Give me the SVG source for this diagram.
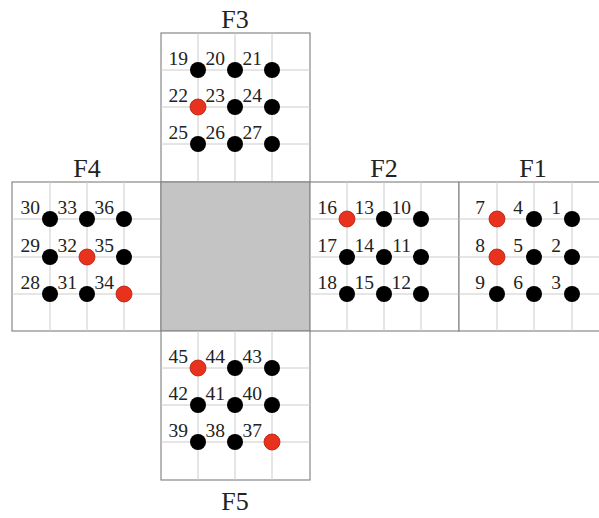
<svg xmlns="http://www.w3.org/2000/svg" width="599" height="518" viewBox="0 0 599 518">
<defs>
<style>
.face{fill:#ffffff;stroke:#888888;stroke-width:1.2}
.center{fill:#c4c4c4;stroke:#888888;stroke-width:1.2}
.grid{stroke:#cccccc;stroke-width:1;fill:none}
.d{fill:#000000}
.r{fill:#e8321e;stroke:#b02010;stroke-width:0.8}
.n{font-family:"Liberation Serif","Times New Roman",serif;font-size:19.5px;fill:#222;text-anchor:end}
.t{font-family:"Liberation Serif","Times New Roman",serif;font-size:26px;fill:#222;text-anchor:middle}
</style>
</defs>
<rect width="599" height="518" fill="#ffffff"/>

<g id="F3">
<rect class="face" x="161" y="33" width="149" height="149"/>
<path class="grid" d="M198,33V182M235,33V182M272,33V182M161,70H310M161,107H310M161,144H310"/>
<text class="t" x="235" y="28">F3</text>
<circle class="d" cx="198" cy="70" r="8"/><circle class="d" cx="235" cy="70" r="8"/><circle class="d" cx="272" cy="70" r="8"/>
<circle class="r" cx="198" cy="107" r="8"/><circle class="d" cx="235" cy="107" r="8"/><circle class="d" cx="272" cy="107" r="8"/>
<circle class="d" cx="198" cy="144" r="8"/><circle class="d" cx="235" cy="144" r="8"/><circle class="d" cx="272" cy="144" r="8"/>
<text class="n" x="188" y="65">19</text><text class="n" x="225" y="65">20</text><text class="n" x="262" y="65">21</text>
<text class="n" x="188" y="102">22</text><text class="n" x="225" y="102">23</text><text class="n" x="262" y="102">24</text>
<text class="n" x="188" y="139">25</text><text class="n" x="225" y="139">26</text><text class="n" x="262" y="139">27</text>
</g>

<g id="F4">
<rect class="face" x="12" y="182" width="149" height="149"/>
<path class="grid" d="M50,182V331M87,182V331M124,182V331M12,219H161M12,257H161M12,294H161"/>
<text class="t" x="87" y="177">F4</text>
<circle class="d" cx="50" cy="219" r="8"/><circle class="d" cx="87" cy="219" r="8"/><circle class="d" cx="124" cy="219" r="8"/>
<circle class="d" cx="50" cy="257" r="8"/><circle class="r" cx="87" cy="257" r="8"/><circle class="d" cx="124" cy="257" r="8"/>
<circle class="d" cx="50" cy="294" r="8"/><circle class="d" cx="87" cy="294" r="8"/><circle class="r" cx="124" cy="294" r="8"/>
<text class="n" x="40" y="214">30</text><text class="n" x="77" y="214">33</text><text class="n" x="114" y="214">36</text>
<text class="n" x="40" y="252">29</text><text class="n" x="77" y="252">32</text><text class="n" x="114" y="252">35</text>
<text class="n" x="40" y="289">28</text><text class="n" x="77" y="289">31</text><text class="n" x="114" y="289">34</text>
</g>

<g id="center">
<rect class="center" x="161" y="182" width="149" height="149"/>
</g>

<g id="F2">
<rect class="face" x="310" y="182" width="149" height="149"/>
<path class="grid" d="M347,182V331M384,182V331M421,182V331M310,219H459M310,257H459M310,294H459"/>
<text class="t" x="384" y="177">F2</text>
<circle class="r" cx="347" cy="219" r="8"/><circle class="d" cx="384" cy="219" r="8"/><circle class="d" cx="421" cy="219" r="8"/>
<circle class="d" cx="347" cy="257" r="8"/><circle class="d" cx="384" cy="257" r="8"/><circle class="d" cx="421" cy="257" r="8"/>
<circle class="d" cx="347" cy="294" r="8"/><circle class="d" cx="384" cy="294" r="8"/><circle class="d" cx="421" cy="294" r="8"/>
<text class="n" x="337" y="214">16</text><text class="n" x="374" y="214">13</text><text class="n" x="411" y="214">10</text>
<text class="n" x="337" y="252">17</text><text class="n" x="374" y="252">14</text><text class="n" x="411" y="252">11</text>
<text class="n" x="337" y="289">18</text><text class="n" x="374" y="289">15</text><text class="n" x="411" y="289">12</text>
</g>

<g id="F1">
<rect class="face" x="459" y="182" width="149" height="149"/>
<path class="grid" d="M497,182V331M534,182V331M572,182V331M459,219H608M459,257H608M459,294H608"/>
<text class="t" x="533" y="177">F1</text>
<circle class="r" cx="497" cy="219" r="8"/><circle class="d" cx="534" cy="219" r="8"/><circle class="d" cx="572" cy="219" r="8"/>
<circle class="r" cx="497" cy="257" r="8"/><circle class="d" cx="534" cy="257" r="8"/><circle class="d" cx="572" cy="257" r="8"/>
<circle class="d" cx="497" cy="294" r="8"/><circle class="d" cx="534" cy="294" r="8"/><circle class="d" cx="572" cy="294" r="8"/>
<text class="n" x="485" y="214">7</text><text class="n" x="523" y="214">4</text><text class="n" x="561" y="214">1</text>
<text class="n" x="485" y="252">8</text><text class="n" x="523" y="252">5</text><text class="n" x="561" y="252">2</text>
<text class="n" x="485" y="289">9</text><text class="n" x="523" y="289">6</text><text class="n" x="561" y="289">3</text>
</g>

<g id="F5">
<rect class="face" x="161" y="331" width="149" height="149"/>
<path class="grid" d="M198,331V480M235,331V480M272,331V480M161,368H310M161,405H310M161,442H310"/>
<text class="t" x="235" y="510">F5</text>
<circle class="r" cx="198" cy="368" r="8"/><circle class="d" cx="235" cy="368" r="8"/><circle class="d" cx="272" cy="368" r="8"/>
<circle class="d" cx="198" cy="405" r="8"/><circle class="d" cx="235" cy="405" r="8"/><circle class="d" cx="272" cy="405" r="8"/>
<circle class="d" cx="198" cy="442" r="8"/><circle class="d" cx="235" cy="442" r="8"/><circle class="r" cx="272" cy="442" r="8"/>
<text class="n" x="188" y="363">45</text><text class="n" x="225" y="363">44</text><text class="n" x="262" y="363">43</text>
<text class="n" x="188" y="400">42</text><text class="n" x="225" y="400">41</text><text class="n" x="262" y="400">40</text>
<text class="n" x="188" y="437">39</text><text class="n" x="225" y="437">38</text><text class="n" x="262" y="437">37</text>
</g>

<g id="connectors"></g>
</svg>
